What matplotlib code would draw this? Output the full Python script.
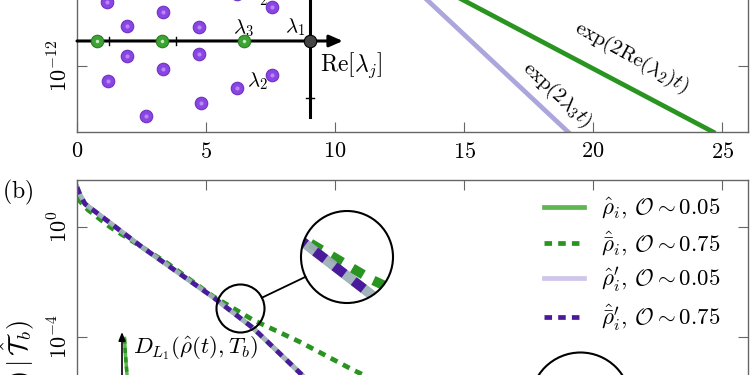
import numpy as np
import matplotlib
matplotlib.use("Agg")
import matplotlib.pyplot as plt
from matplotlib.lines import Line2D
from matplotlib.patches import Circle
from matplotlib.ticker import NullLocator

plt.rcParams['mathtext.fontset'] = 'cm'
plt.rcParams['font.family'] = 'serif'
plt.rcParams['font.serif'] = ['cmr10', 'DejaVu Serif']
plt.rcParams['axes.formatter.use_mathtext'] = True

# ---- data ----
# panel (a): decay lines, log10 values
t_exp_re2 = [10.1, 14.96, 24.65]
log_exp_re2 = [-4.0, -8.0, -16.0]
t_exp_l3 = [10.84, 13.57, 19.03]
log_exp_l3 = [-4.0, -8.0, -16.0]

# panel (a) inset: eigenvalue spectrum (Re, Im)
re_purple = [-3.03, -2.19, -2.73, -1.66, -0.56, -1.09, -1.63, -2.45,
             -2.73, -1.66, -2.19, -3.01, -0.56, -1.09, -1.63, -2.45]
im_purple = [0.69, 0.50, 0.26, 0.24, 0.60, 0.82, 1.08, 1.32,
             -0.26, -0.22, -0.49, -0.70, -0.60, -0.82, -1.08, -1.32]
re_green = [-3.18, -2.21, -0.99]
im_green = [0.0, 0.0, 0.0]
re_black = [0.0]
im_black = [0.0]

# panel (b): distance curves, log10 values
t_rho = [0, 0.12, 0.31, 2.56, 5.27, 6.82, 8.72, 10.2]
log_rho = [1.45, 1.16, 0.84, -0.76, -2.55, -3.67, -5.38, -7.0]
t_rho_bar = [0, 0.43, 1.28, 3.49, 5.27, 6.82, 8.64, 10.7, 13.3]
log_rho_bar = [1.05, 0.62, 0.0, -1.31, -2.52, -3.38, -4.18, -5.2, -6.36]

# small inset in (b)
inset_x = [0.015, 0.02, 0.03, 0.05, 0.1, 0.2]
inset_y = [0.94, 0.8, 0.6, 0.35, 0.15, 0.05]

xticks = [0, 5, 10, 15, 20, 25]
xticklabels = [r'$%d$' % v for v in xticks]

labels = [r'$\hat{\rho}_i$, $\mathcal{O}\sim 0.05$',
          r'$\hat{\bar{\rho}}_i$, $\mathcal{O}\sim 0.75$',
          r"$\hat{\rho}^{\prime}_i$, $\mathcal{O}\sim 0.05$",
          r"$\hat{\bar{\rho}}^{\prime}_i$, $\mathcal{O}\sim 0.75$"]

c_green_light = '#5cb84e'
c_green_dark = '#2a9420'
c_lav = '#bdb3e3'
c_purple = '#4a1a9c'
c_spine = '#666666'

W, H = 750, 375
fig = plt.figure(figsize=(7.5, 3.75), dpi=100)


def px_axes(x0, y0, x1, y1):
    return fig.add_axes([x0 / W, 1 - y1 / H, (x1 - x0) / W, (y1 - y0) / H])


def style(ax):
    for s in ax.spines.values():
        s.set_color(c_spine)
        s.set_linewidth(1.0)
    ax.tick_params(direction='in', top=True, right=True, length=7,
                   color=c_spine, labelsize=16, pad=7)
    ax.tick_params(axis='y', pad=4)
    ax.yaxis.set_minor_locator(NullLocator())
    ax.xaxis.set_minor_locator(NullLocator())


# ---------- panel (a) ----------
ax_a = px_axes(77, -66, 748, 132)
ax_a.set_yscale('log')
ax_a.set_xlim(0, 26)
ax_a.set_ylim(1e-16, 1e-4)
style(ax_a)
ax_a.set_xticks(xticks)
ax_a.set_xticklabels(xticklabels)
ax_a.set_yticks([1e-12])
ax_a.set_yticklabels([r'$10^{-12}$'], rotation=90, va='center')

ax_a.plot(t_exp_re2, 10 ** np.array(log_exp_re2), color=c_green_dark, lw=3.4)
ax_a.plot(t_exp_l3, 10 ** np.array(log_exp_l3), color='#aba6dc', lw=3.4)
ax_a.text(21.5, 10 ** -11.45, r'$\exp(2\mathrm{Re}(\lambda_2)t)$', fontsize=15,
          rotation=-29, ha='center', va='center', rotation_mode='anchor')
ax_a.text(18.6, 10 ** -13.76, r'$\exp(2\lambda_3 t)$', fontsize=15,
          rotation=-43, ha='center', va='center', rotation_mode='anchor')

# inset spectrum
ax_s = px_axes(77, -40, 350, 125)
ax_s.set_xlim(-3.478, 0.597)
ax_s.set_ylim(-1.474, 1.421)
ax_s.axis('off')
ax_s.annotate('', xy=(0.49, 0), xytext=(-3.478, 0),
              arrowprops=dict(arrowstyle='-|>,head_length=0.8,head_width=0.35',
                              lw=2.2, color='k', shrinkA=0, shrinkB=0))
ax_s.plot([0, 0], [-1.333, 1.421], color='k', lw=2.2)
for r in [-1, -2, -3]:
    ax_s.plot([r, r], [-0.07, 0.07], color='k', lw=1)
ax_s.plot([-0.06, 0.06], [-1, -1], color='k', lw=1)

ax_s.plot(re_purple, im_purple, 'o', ms=9, mfc='#8a45e4', mec='#6d32c4', mew=0.8)
ax_s.plot(re_purple, im_purple, 'o', ms=3, mfc='#b48af0', mec='none')
ax_s.plot(re_green, im_green, 'o', ms=9, mfc='#3da334', mec='#2b7d22', mew=0.8, zorder=3)
ax_s.plot(re_green, im_green, 'o', ms=2.5, mfc='#c8eac0', mec='none', zorder=4)
ax_s.plot(re_black, im_black, 'o', ms=9, mfc='#444444', mec='k', mew=0.8, zorder=3)

ax_s.text(-0.224, 0.246, r'$\lambda_1$', fontsize=15, ha='center', va='center')
ax_s.text(-1.0, 0.23, r'$\lambda_3$', fontsize=15, ha='center', va='center')
ax_s.text(-0.79, -0.70, r'$\lambda_2$', fontsize=15, ha='center', va='center')
ax_s.text(-0.75, 0.80, r'$\lambda_2^*$', fontsize=15, ha='center', va='center')
ax_s.text(0.15, -0.42, r'$\mathrm{Re}[\lambda_j]$', fontsize=17, ha='left', va='center')

# ---------- panel (b) ----------
ax_b = px_axes(77, 180, 748, 502)
ax_b.set_yscale('log')
ax_b.set_xlim(0, 26)
ax_b.set_ylim(1e-10, 10 ** 1.709)
style(ax_b)
ax_b.set_xticks(xticks)
ax_b.set_xticklabels(xticklabels)
ax_b.set_yticks([1e0, 1e-4])
ax_b.set_yticklabels([r'$10^{0}$', r'$10^{-4}$'], rotation=90, va='center')


def draw_curves(ax, lw, dash):
    ax.plot(t_rho, 10 ** np.array(log_rho), color=c_green_light, lw=lw)
    ax.plot(t_rho_bar, 10 ** np.array(log_rho_bar), color=c_green_dark, lw=lw,
            dashes=dash)
    ax.plot(t_rho, 10 ** np.array(log_rho), color=c_lav, lw=lw, alpha=0.75)
    ax.plot(t_rho, 10 ** np.array(log_rho), color=c_purple, lw=lw, dashes=dash)


draw_curves(ax_b, 3.4, (1.6, 1.3))

handles = [Line2D([], [], color=c_green_light, lw=3.4),
           Line2D([], [], color=c_green_dark, lw=3.4, dashes=(1.6, 1.3)),
           Line2D([], [], color='#cfc6ea', lw=3.4),
           Line2D([], [], color=c_purple, lw=3.4, dashes=(1.6, 1.3))]
ax_b.legend(handles, labels, loc='upper left', bbox_to_anchor=(0.696, 0.950),
            frameon=False, fontsize=16.5, handlelength=1.75, handletextpad=0.75,
            labelspacing=0.34, borderpad=0, borderaxespad=0)

# small circle on the curves and its magnifier
t0, log0 = 6.32, -2.95
r_small, r_big = 24, 46
ax_b.plot([t0], [10 ** log0], 'o', ms=2 * r_small * 0.72, mfc='none', mec='k', mew=1.5)

ax_m = px_axes(347 - r_big, 257 - r_big, 347 + r_big, 257 + r_big)
ax_m.set_yscale('log')
dt = r_small / 25.8
dl = r_small / 27.5
ax_m.set_xlim(t0 - dt, t0 + dt)
ax_m.set_ylim(10 ** (log0 - dl), 10 ** (log0 + dl))
ax_m.axis('off')
ax_m.add_patch(Circle((0.5, 0.5), 0.5, transform=ax_m.transAxes, fc='white', ec='none', zorder=0))
before = len(ax_m.lines)
draw_curves(ax_m, 7.0, (1.3, 1.2))
clip = Circle((0.5, 0.5), 0.5, transform=ax_m.transAxes)
for ln in ax_m.lines[before:]:
    ln.set_clip_path(clip)
ax_m.add_patch(Circle((0.5, 0.5), 0.5, transform=ax_m.transAxes, fc='none', ec='k',
                      lw=1.5, zorder=5, clip_on=False))

p_small = ax_b.transData.transform((t0, 10 ** log0))
p_big = ax_m.transAxes.transform((0.5, 0.5))
d = (p_big - p_small) / np.hypot(*(p_big - p_small))
a = fig.transFigure.inverted().transform(p_small + d * r_small)
b = fig.transFigure.inverted().transform(p_big - d * r_big)
fig.add_artist(Line2D([a[0], b[0]], [a[1], b[1]], color='k', lw=1.3))

# second magnifier, mostly below the crop
ax_b.plot([19.5], [10 ** -6.36], 'o', ms=2 * 50 * 0.72, mfc='white', mec='k', mew=1.5)

# small inset at lower left
ax_i = px_axes(122, 332, 290, 440)
ax_i.set_xlim(0, 1)
ax_i.set_ylim(0, 1)
ax_i.axis('off')
ax_i.annotate('', xy=(0, 1.0), xytext=(0, -0.2),
              arrowprops=dict(arrowstyle='-|>,head_length=0.5,head_width=0.2',
                              lw=1.2, color='k', shrinkA=0, shrinkB=0))
ax_i.plot(inset_x, inset_y, color=c_green_light, lw=2.5)
ax_i.plot(inset_x, inset_y, color=c_green_dark, lw=2.5, dashes=(1.5, 1.2))
ax_i.text(0.065, 0.85, r'$D_{L_1}(\hat{\rho}(t), T_b)$', fontsize=16.5, ha='left', va='center')

fig.text(2 / W, 1 - 192 / H, r'$\mathrm{(b)}$', fontsize=17, ha='left', va='center')
fig.text(18 / W, 1 - 320 / H, r'$D(\hat{\rho}_i(t)\,|\,\hat{\mathcal{T}}_b)$', fontsize=19,
         rotation=90, ha='center', va='top')

fig.savefig('out.png', dpi=100)
